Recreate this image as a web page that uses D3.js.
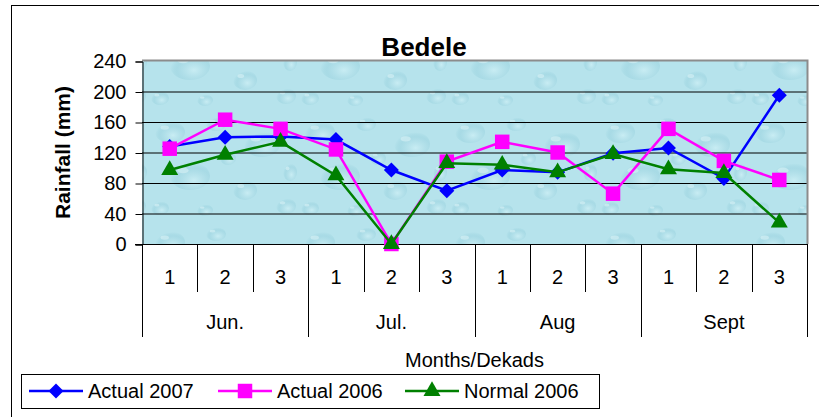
<!DOCTYPE html>
<html>
<head>
<meta charset="utf-8">
<script src="https://d3js.org/d3.v7.min.js"></script>
<style>
  body { margin: 0; background: #fff; }
  text { font-family: "Liberation Sans", Arial, sans-serif; fill: #000; }
</style>
</head>
<body>
<script>
// data
var months = ["Jun.", "Jul.", "Aug", "Sept"];
var dekads = ["1", "2", "3"];
var actual2007 = [128, 140, 141, 137, 97, 70, 97, 94, 119, 126, 86, 195];
var actual2006 = [125, 163, 151, 124, 0, 108, 134, 120, 66, 151, 109, 84];
var normal2006 = [97, 117, 134, 90, 0, 106, 104, 94, 118, 98, 93, 28];
var yTicks = [0, 40, 80, 120, 160, 200, 240];
var seriesNames = ["Actual 2007", "Actual 2006", "Normal 2006"];

var w = 819, h = 417;
var pLeft = 142, pRight = 807, pTop = 61, pBottom = 244;

var cats = [];
months.forEach(m => dekads.forEach(d => cats.push(m + "|" + d)));

var x = d3.scaleBand().domain(cats).range([pLeft, pRight]);
var y = d3.scaleLinear().domain([0, 240]).range([pBottom, pTop]);

var svg = d3.select("body").append("svg")
  .attr("width", w)
  .attr("height", h);

// chart frame
svg.append("rect")
  .attr("x", 11.5).attr("y", 5.5)
  .attr("width", 830).attr("height", 430)
  .attr("fill", "#fff").attr("stroke", "#000").attr("stroke-width", 1);

// water-drop like background
var defs = svg.append("defs");
var grad = defs.append("radialGradient").attr("id", "drop")
  .attr("cx", "60%").attr("cy", "65%").attr("r", "60%");
grad.append("stop").attr("offset", "0%").attr("stop-color", "#cdeff5").attr("stop-opacity", 0.8);
grad.append("stop").attr("offset", "70%").attr("stop-color", "#9fd5e1").attr("stop-opacity", 0.6);
grad.append("stop").attr("offset", "100%").attr("stop-color", "#8ccad8").attr("stop-opacity", 0.0);

var pat = defs.append("pattern").attr("id", "water")
  .attr("patternUnits", "userSpaceOnUse")
  .attr("width", 150).attr("height", 110);
pat.append("rect").attr("width", 150).attr("height", 110).attr("fill", "#b6e3ec");
var drops = [[20, 22, 15, 11], [66, 14, 10, 7], [112, 34, 18, 13], [40, 66, 20, 14],
             [95, 80, 12, 10], [136, 96, 10, 8], [10, 98, 9, 7], [78, 48, 8, 7],
             [140, 62, 7, 9], [55, 100, 8, 6]];
drops.forEach(function(d) {
  pat.append("ellipse")
    .attr("cx", d[0]).attr("cy", d[1]).attr("rx", d[2]).attr("ry", d[3])
    .attr("fill", "url(#drop)");
  pat.append("ellipse")
    .attr("cx", d[0] - d[2] * 0.35).attr("cy", d[1] - d[3] * 0.4)
    .attr("rx", d[2] * 0.28).attr("ry", d[3] * 0.2)
    .attr("fill", "#e6f8fa").attr("opacity", 0.45);
});

svg.append("rect")
  .attr("x", pLeft).attr("y", pTop)
  .attr("width", pRight - pLeft).attr("height", pBottom - pTop)
  .attr("fill", "url(#water)");

// gridlines
svg.append("g").selectAll("line").data(yTicks.slice(1, -1)).enter().append("line")
  .attr("x1", pLeft).attr("x2", pRight)
  .attr("y1", d => y(d) + 0.5).attr("y2", d => y(d) + 0.5)
  .attr("stroke", "#000").attr("stroke-width", 1);

// plot border (gray top/right)
svg.append("path")
  .attr("d", "M" + pLeft + "," + (pTop - 0.5) + "H" + (pRight + 0.5) + "V" + pBottom)
  .attr("fill", "none").attr("stroke", "#8c8c8c").attr("stroke-width", 2);

// y axis
var yAxis = d3.axisLeft(y).tickValues(yTicks).tickSize(7).tickPadding(9);
var gy = svg.append("g")
  .attr("transform", "translate(" + (pLeft + 0.5) + ",0.5)")
  .call(yAxis);
gy.select(".domain").attr("stroke", "#000");
gy.selectAll(".tick line").attr("stroke", "#000");
gy.selectAll("text").style("font-size", "20px").attr("fill", "#000")
  .attr("font-family", "Liberation Sans, Arial, sans-serif");

// x axis: baseline
svg.append("line")
  .attr("x1", pLeft - 7).attr("x2", pRight)
  .attr("y1", pBottom + 0.5).attr("y2", pBottom + 0.5)
  .attr("stroke", "#000");

// dekad separators
var g = svg.append("g");
g.selectAll("line.dek").data(cats).enter().append("line")
  .attr("class", "dek")
  .attr("x1", d => Math.round(x(d)) + 0.5)
  .attr("x2", d => Math.round(x(d)) + 0.5)
  .attr("y1", pBottom)
  .attr("y2", (d, i) => i % 3 === 0 ? 337 : 292)
  .attr("stroke", "#000");
g.append("line")
  .attr("x1", pRight + 0.5).attr("x2", pRight + 0.5)
  .attr("y1", pBottom).attr("y2", 337)
  .attr("stroke", "#000");

// dekad labels
g.selectAll("text.dek").data(cats).enter().append("text")
  .attr("class", "dek")
  .attr("x", d => x(d) + x.bandwidth() / 2)
  .attr("y", 284)
  .attr("text-anchor", "middle")
  .style("font-size", "20px")
  .text(d => d.split("|")[1]);

// month labels
g.selectAll("text.mon").data(months).enter().append("text")
  .attr("class", "mon")
  .attr("x", m => x(m + "|2") + x.bandwidth() / 2)
  .attr("y", 329)
  .attr("text-anchor", "middle")
  .style("font-size", "20px")
  .text(m => m);

// axis titles
svg.append("text")
  .attr("x", (pLeft + pRight) / 2).attr("y", 367)
  .attr("text-anchor", "middle")
  .style("font-size", "20px")
  .text("Months/Dekads");

svg.append("text")
  .attr("transform", "translate(70," + ((pTop + pBottom) / 2) + ") rotate(-90)")
  .attr("text-anchor", "middle")
  .style("font-size", "21px").style("font-weight", "bold")
  .text("Rainfall (mm)");

svg.append("text")
  .attr("x", 424).attr("y", 56)
  .attr("text-anchor", "middle")
  .style("font-size", "26px").style("font-weight", "bold")
  .text("Bedele");

// series
var diamond = { draw: function(ctx, size) {
  var r = Math.sqrt(size) / 2;
  ctx.moveTo(0, -r); ctx.lineTo(r, 0); ctx.lineTo(0, r); ctx.lineTo(-r, 0); ctx.closePath();
} };

var series = [
  { name: seriesNames[0], values: actual2007, color: "#0000ff", shape: diamond, size: 225 },
  { name: seriesNames[1], values: actual2006, color: "#ff00ff", shape: d3.symbolSquare, size: 210 },
  { name: seriesNames[2], values: normal2006, color: "#008000", shape: d3.symbolTriangle, size: 125 }
];

var line = d3.line()
  .x((d, i) => x(cats[i]) + x.bandwidth() / 2)
  .y(d => y(d));

series.forEach(function(s) {
  svg.append("path").datum(s.values)
    .attr("fill", "none")
    .attr("stroke", s.color)
    .attr("stroke-width", 2.5)
    .attr("d", line);
  svg.append("g").selectAll("path").data(s.values).enter().append("path")
    .attr("transform", (d, i) => "translate(" + (x(cats[i]) + x.bandwidth() / 2) + "," + y(d) + ")")
    .attr("d", d3.symbol().type(s.shape).size(s.size))
    .attr("fill", s.color);
});

// legend
var leg = svg.append("g");
leg.append("rect")
  .attr("x", 21.5).attr("y", 374.5)
  .attr("width", 578).attr("height", 34)
  .attr("fill", "#fff").attr("stroke", "#000");
var legX = [29, 218, 405];
series.forEach(function(s, i) {
  leg.append("line")
    .attr("x1", legX[i]).attr("x2", legX[i] + 54)
    .attr("y1", 391).attr("y2", 391)
    .attr("stroke", s.color).attr("stroke-width", 2.5);
  leg.append("path")
    .attr("transform", "translate(" + (legX[i] + 27) + ",391)")
    .attr("d", d3.symbol().type(s.shape).size(s.size))
    .attr("fill", s.color);
  leg.append("text")
    .attr("x", legX[i] + 59).attr("y", 398)
    .style("font-size", "20px")
    .text(s.name);
});
</script>
</body>
</html>
